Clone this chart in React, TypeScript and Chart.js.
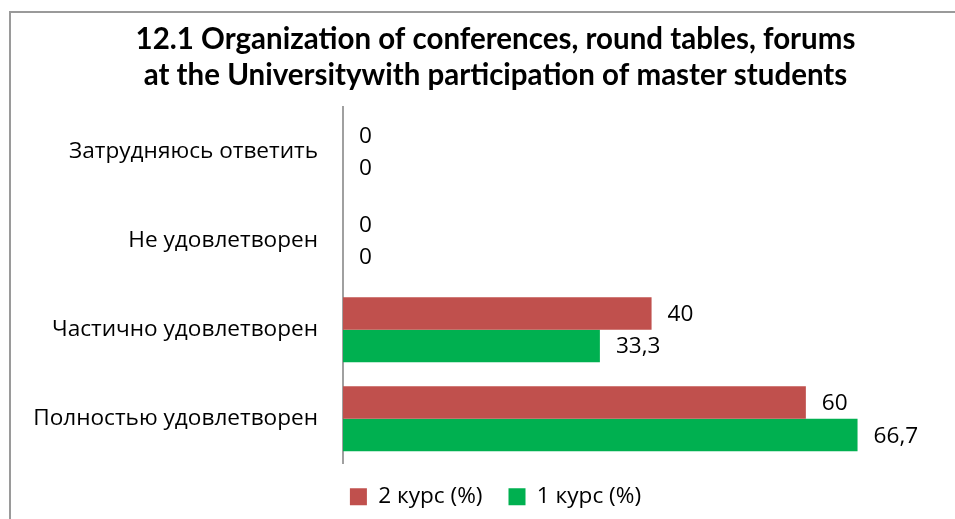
import React, { useEffect, useRef } from 'react';
import { Chart, registerables } from 'chart.js';

Chart.register(...registerables);

const categories = ['Затрудняюсь ответить', 'Не удовлетворен', 'Частично удовлетворен', 'Полностью удовлетворен'];
const seriesNames = ['2 курс (%)', '1 курс (%)'];
const course2 = [0, 0, 40, 60];
const course1 = [0, 0, 33.3, 66.7];
const seriesColors = ['#C0504D', '#00B050'];
const titleLines = [
  '12.1 Organization of conferences, round tables, forums',
  'at the Universitywith participation of master students',
];

const TEXT_FONT = '"Open Sans", "Noto Sans", sans-serif';
const TITLE_FONT = 'Lato, "Open Sans", sans-serif';
const TEXT_SIZE = 22.6;

const valueLabels = {
  id: 'valueLabels',
  afterDatasetsDraw(chart: any) {
    const ctx = chart.ctx;
    ctx.save();
    ctx.font = `${TEXT_SIZE}px ${TEXT_FONT}`;
    ctx.fillStyle = '#000';
    ctx.textAlign = 'left';
    ctx.textBaseline = 'middle';
    chart.data.datasets.forEach((ds: any, i: number) => {
      const meta = chart.getDatasetMeta(i);
      meta.data.forEach((el: any, j: number) => {
        const v = ds.data[j];
        ctx.fillText(String(v).replace('.', ','), el.x + 16, el.y + 1);
      });
    });
    ctx.restore();
  },
};

const legendShift = {
  id: 'legendShift',
  afterLayout(chart: any) {
    const l = chart.legend;
    if (l) {
      l.top -= 4;
      l.bottom -= 4;
    }
  },
};

export default function App() {
  const ref = useRef<HTMLCanvasElement | null>(null);
  useEffect(() => {
    if (!ref.current) return;
    const chart = new Chart(ref.current, {
      type: 'bar',
      data: {
        labels: categories,
        datasets: [
          { label: seriesNames[0], data: course2, backgroundColor: seriesColors[0], borderWidth: 0 },
          { label: seriesNames[1], data: course1, backgroundColor: seriesColors[1], borderWidth: 0 },
        ],
      },
      options: {
        indexAxis: 'y',
        responsive: false,
        animation: false,
        maintainAspectRatio: false,
        layout: { padding: { left: 0, right: 0, top: 0, bottom: 0 } },
        datasets: { bar: { categoryPercentage: 0.73, barPercentage: 1.0 } },
        scales: {
          x: {
            display: false,
            min: 0,
            max: 84,
          },
          y: {
            grid: { display: false, drawTicks: false },
            border: { display: true, color: '#a0a0a0', width: 2 },
            ticks: { color: '#000', padding: 25, font: { family: TEXT_FONT, size: TEXT_SIZE } },
            afterFit: (scale: any) => { scale.width = 343; },
          },
        },
        plugins: {
          title: {
            display: true,
            text: titleLines,
            color: '#000',
            font: { family: TITLE_FONT, size: 29.5, weight: 'bold', lineHeight: 1.22 },
            padding: { top: 21, bottom: 14 },
          },
          legend: {
            position: 'bottom',
            labels: {
              color: '#000',
              boxWidth: 17,
              boxHeight: 17,
              padding: 26,
              font: { family: TEXT_FONT, size: TEXT_SIZE },
            },
          },
          tooltip: { enabled: false },
        },
      },
      plugins: [valueLabels, legendShift],
    } as any);
    return () => chart.destroy();
  }, []);

  return (
    <div style={{ position: 'fixed', left: 0, top: 0, width: 955, height: 519, overflow: 'hidden', background: '#fff' }}>
      <div style={{ position: 'absolute', left: 9, top: 11, width: 1100, height: 700, border: '2px solid #9a9a9a', boxSizing: 'border-box' }} />
      <canvas ref={ref} width={991} height={522} style={{ position: 'absolute', left: 0, top: 0, width: 991, height: 522 }} />
    </div>
  );
}
